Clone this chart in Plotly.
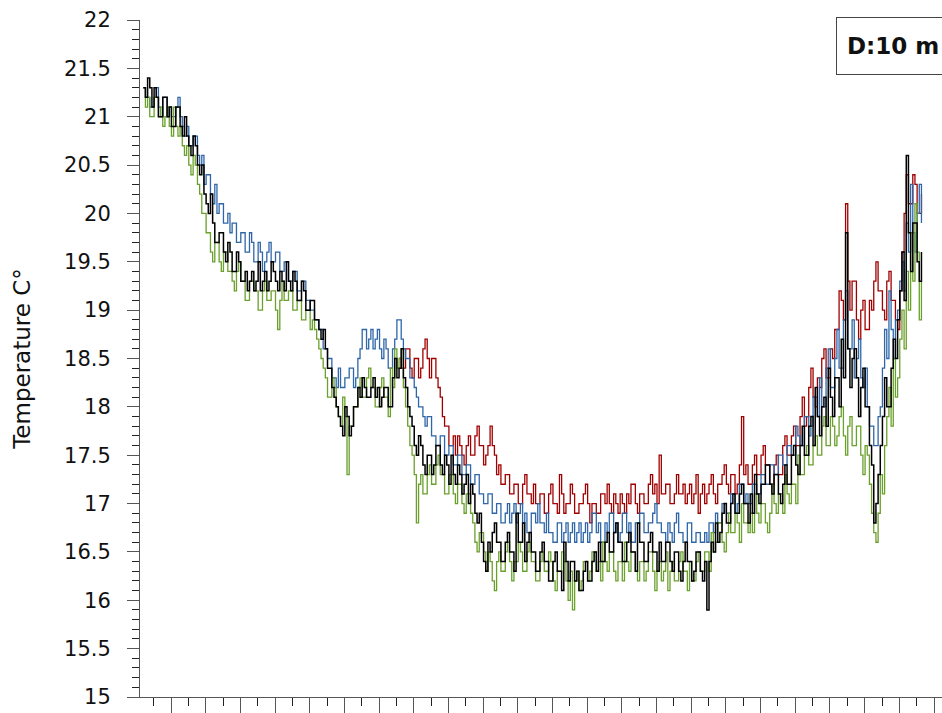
import numpy as np
import plotly.graph_objects as go

# Sampling: one reading every 3 hours (0.125 day), starting at day 0.4
T0 = 0.4
STEP = 0.125

black_vals = [
    21.3, 21.2, 21.4, 21.3, 21.1, 21.3, 21.2, 21.0, 21.0, 21.2, 21.2, 21.0, 21.1, 20.9, 20.9, 21.1, 21.1, 20.9, 20.8, 21.0,
    20.8, 20.7, 20.6, 20.8, 20.7, 20.5, 20.4, 20.5, 20.2, 20.1, 20.0, 20.2, 19.9, 19.7, 19.7, 19.8, 19.8, 19.6, 19.5, 19.7,
    19.6, 19.4, 19.4, 19.6, 19.5, 19.3, 19.3, 19.4, 19.2, 19.3, 19.4, 19.2, 19.3, 19.5, 19.2, 19.3, 19.4, 19.2, 19.3, 19.5,
    19.4, 19.3, 19.2, 19.4, 19.3, 19.2, 19.5, 19.3, 19.2, 19.4, 19.3, 19.1, 19.1, 19.3, 19.2, 19.0, 19.0, 19.1, 19.1, 18.9,
    18.9, 18.8, 18.7, 18.8, 18.6, 18.4, 18.4, 18.2, 18.1, 18.0, 17.9, 17.8, 17.7, 18.0, 17.9, 17.7, 17.8, 18.0, 18.0, 18.2,
    18.1, 18.3, 18.2, 18.1, 18.1, 18.2, 18.3, 18.1, 18.2, 18.0, 18.1, 18.2, 18.2, 18.0, 18.0, 18.3, 18.5, 18.3, 18.4, 18.6,
    18.3, 18.2, 18.0, 17.9, 17.8, 17.6, 17.5, 17.7, 17.6, 17.4, 17.3, 17.5, 17.5, 17.3, 17.4, 17.6, 17.6, 17.4, 17.3, 17.5,
    17.4, 17.2, 17.5, 17.3, 17.2, 17.4, 17.3, 17.1, 17.2, 17.3, 17.0, 17.2, 17.1, 16.9, 16.8, 16.9, 16.6, 16.4, 16.3, 16.6,
    16.5, 16.7, 16.8, 16.6, 16.6, 16.4, 16.4, 16.6, 16.7, 16.5, 16.5, 16.3, 16.9, 16.6, 16.6, 16.8, 16.4, 16.6, 16.7, 16.5,
    16.5, 16.3, 16.3, 16.5, 16.6, 16.4, 16.4, 16.2, 16.2, 16.4, 16.5, 16.3, 16.3, 16.1, 16.6, 16.4, 16.2, 16.4, 16.4, 16.2,
    16.3, 16.1, 16.1, 16.3, 16.4, 16.2, 16.2, 16.4, 16.5, 16.3, 16.6, 16.4, 16.4, 16.6, 16.7, 16.5, 16.5, 16.7, 16.8, 16.6,
    16.6, 16.4, 16.4, 16.6, 16.7, 16.5, 16.5, 16.3, 16.8, 16.6, 16.6, 16.4, 16.4, 16.6, 16.7, 16.5, 16.5, 16.3, 16.6, 16.4,
    16.4, 16.6, 16.6, 16.4, 16.3, 16.5, 16.5, 16.3, 16.2, 16.4, 16.6, 16.4, 16.4, 16.2, 16.3, 16.5, 16.5, 16.3, 16.2, 16.4,
    15.9, 16.4, 16.6, 16.5, 16.8, 16.6, 16.7, 16.9, 17.0, 16.8, 16.8, 17.0, 17.1, 16.9, 16.9, 17.1, 17.2, 17.0, 17.0, 16.8,
    17.1, 16.9, 17.3, 17.1, 17.0, 17.2, 17.2, 17.4, 17.4, 17.2, 17.1, 17.3, 17.3, 17.1, 17.0, 17.2, 17.4, 17.2, 17.2, 17.5,
    17.6, 17.4, 17.3, 17.6, 17.8, 17.5, 17.5, 17.8, 17.9, 17.6, 18.2, 17.9, 17.7, 18.0, 18.1, 17.8, 18.4, 18.1, 17.9, 18.3,
    18.3, 18.0, 18.7, 18.3, 19.8, 18.6, 18.2, 18.5, 18.6, 18.3, 17.9, 18.2, 18.4, 18.0, 18.0, 17.6, 17.4, 16.8, 17.0, 17.3,
    17.6, 17.9, 18.3, 18.0, 18.0, 18.4, 18.7, 18.5, 18.9, 19.2, 19.6, 19.1, 20.6, 19.8, 19.4, 19.9, 19.9, 19.5, 19.3, 19.6,
]

blue_vals = [
    21.3, 21.2, 21.2, 21.1, 21.1, 21.2, 21.3, 21.1, 21.0, 21.2, 21.2, 21.0, 21.1, 21.0, 21.0, 21.1, 21.2, 21.0, 20.9, 20.8,
    20.9, 20.7, 20.7, 20.8, 20.8, 20.6, 20.5, 20.6, 20.3, 20.4, 20.4, 20.2, 20.1, 20.3, 20.0, 20.1, 20.1, 19.9, 19.9, 20.0,
    19.8, 19.9, 19.9, 19.7, 19.7, 19.8, 19.8, 19.6, 19.6, 19.8, 19.7, 19.5, 19.5, 19.7, 19.6, 19.4, 19.5, 19.6, 19.7, 19.5,
    19.5, 19.6, 19.6, 19.4, 19.4, 19.5, 19.5, 19.3, 19.3, 19.4, 19.4, 19.2, 19.2, 19.3, 19.3, 19.1, 19.1, 19.0, 19.0, 18.9,
    18.9, 18.8, 18.8, 18.6, 18.6, 18.5, 18.5, 18.3, 18.3, 18.2, 18.4, 18.2, 18.2, 18.3, 18.3, 18.4, 18.4, 18.2, 18.3, 18.5,
    18.6, 18.8, 18.8, 18.6, 18.7, 18.8, 18.6, 18.7, 18.8, 18.6, 18.5, 18.7, 18.6, 18.4, 18.4, 18.6, 18.7, 18.9, 18.9, 18.7,
    18.6, 18.5, 18.5, 18.3, 18.3, 18.2, 18.1, 18.0, 18.0, 17.9, 17.8, 17.9, 17.9, 17.7, 17.7, 17.6, 17.6, 17.7, 17.7, 17.5,
    17.5, 17.6, 17.6, 17.4, 17.4, 17.5, 17.5, 17.3, 17.3, 17.4, 17.4, 17.2, 17.2, 17.3, 17.3, 17.1, 17.1, 17.0, 17.0, 17.1,
    17.1, 16.9, 16.9, 17.0, 17.0, 16.8, 16.8, 16.9, 17.0, 16.8, 16.9, 17.0, 16.8, 16.9, 17.0, 16.8, 16.9, 16.7, 16.7, 16.9,
    16.9, 16.8, 17.0, 16.8, 16.8, 16.7, 16.9, 16.7, 16.7, 16.6, 16.6, 16.8, 16.8, 16.6, 16.7, 16.8, 16.6, 16.7, 16.8, 16.6,
    16.7, 16.8, 16.6, 16.7, 16.8, 16.6, 16.7, 16.9, 16.9, 16.7, 16.8, 16.6, 16.6, 16.8, 16.7, 16.9, 16.9, 16.7, 16.8, 16.6,
    16.7, 16.9, 16.9, 16.7, 16.8, 16.6, 16.6, 16.8, 16.8, 16.9, 16.9, 16.7, 16.7, 16.8, 16.8, 16.9, 17.0, 16.8, 16.8, 16.7,
    16.7, 16.6, 16.8, 16.7, 16.6, 16.8, 16.9, 16.7, 16.7, 16.6, 16.6, 16.8, 16.8, 16.6, 16.6, 16.7, 16.7, 16.6, 16.6, 16.7,
    16.6, 16.8, 16.8, 16.7, 16.9, 16.8, 16.8, 17.0, 17.0, 16.9, 16.9, 17.1, 17.1, 16.9, 17.0, 17.2, 17.2, 17.0, 17.1, 17.0,
    17.0, 17.2, 17.2, 17.1, 17.1, 17.3, 17.3, 17.2, 17.2, 17.4, 17.4, 17.3, 17.3, 17.5, 17.5, 17.4, 17.4, 17.6, 17.6, 17.5,
    17.5, 17.8, 17.7, 17.6, 17.6, 17.9, 17.9, 17.7, 17.8, 18.1, 18.1, 17.9, 18.3, 18.0, 18.0, 18.4, 18.6, 18.2, 18.2, 18.5,
    18.8, 18.4, 18.4, 18.9, 19.2, 18.6, 18.6, 18.9, 18.3, 18.5, 18.7, 18.3, 18.2, 18.4, 18.0, 17.8, 17.8, 17.6, 17.6, 17.9,
    18.0, 18.4, 18.8, 18.5, 19.2, 18.8, 18.5, 18.9, 19.0, 19.3, 19.5, 19.2, 19.9, 19.6, 20.3, 19.8, 19.6, 20.0, 20.3, 19.9,
]

green_vals = [
    21.3, 21.1, 21.2, 21.0, 21.0, 21.2, 21.2, 21.0, 21.1, 20.9, 21.0, 21.1, 20.9, 20.8, 21.1, 20.9, 20.8, 20.9, 20.7, 20.6,
    20.7, 20.5, 20.4, 20.6, 20.5, 20.3, 20.2, 20.0, 20.0, 19.8, 19.8, 19.6, 19.5, 19.7, 19.7, 19.5, 19.4, 19.6, 19.6, 19.4,
    19.4, 19.3, 19.2, 19.4, 19.5, 19.3, 19.3, 19.1, 19.1, 19.3, 19.3, 19.2, 19.2, 19.0, 19.0, 19.2, 19.3, 19.1, 19.1, 19.2,
    19.2, 19.0, 18.8, 19.1, 19.3, 19.1, 19.1, 19.2, 19.2, 19.0, 19.0, 19.1, 19.1, 18.9, 18.9, 19.0, 19.0, 18.8, 18.9, 18.8,
    18.7, 18.6, 18.5, 18.4, 18.3, 18.1, 18.1, 18.3, 18.2, 18.0, 17.9, 17.8, 18.1, 17.9, 17.3, 17.8, 17.8, 18.0, 18.0, 18.2,
    18.3, 18.1, 18.1, 18.3, 18.4, 18.2, 18.2, 18.0, 18.0, 18.2, 18.3, 18.1, 18.1, 17.9, 18.4, 18.2, 18.6, 18.4, 18.5, 18.6,
    18.2, 18.0, 17.8, 17.6, 17.5, 17.3, 16.8, 17.2, 17.3, 17.1, 17.1, 17.3, 17.4, 17.2, 17.2, 17.4, 17.5, 17.3, 17.3, 17.1,
    17.1, 17.3, 17.3, 17.1, 17.0, 17.2, 17.2, 17.0, 16.9, 17.1, 17.1, 16.9, 16.8, 16.6, 16.5, 16.7, 16.7, 16.5, 16.3, 16.5,
    16.4, 16.2, 16.1, 16.4, 16.5, 16.3, 16.3, 16.5, 16.6, 16.4, 16.2, 16.4, 16.4, 16.6, 16.5, 16.3, 16.3, 16.5, 16.6, 16.4,
    16.4, 16.2, 16.2, 16.4, 16.5, 16.3, 16.3, 16.5, 16.4, 16.2, 16.1, 16.3, 16.3, 16.5, 16.4, 16.2, 16.0, 16.3, 15.9, 16.2,
    16.3, 16.1, 16.2, 16.4, 16.4, 16.2, 16.3, 16.5, 16.5, 16.3, 16.4, 16.2, 16.6, 16.4, 16.3, 16.5, 16.5, 16.3, 16.2, 16.4,
    16.4, 16.2, 16.6, 16.4, 16.3, 16.5, 16.5, 16.3, 16.2, 16.4, 16.4, 16.2, 16.3, 16.5, 16.5, 16.3, 16.1, 16.3, 16.4, 16.2,
    16.3, 16.5, 16.1, 16.3, 16.4, 16.2, 16.2, 16.4, 16.5, 16.3, 16.3, 16.1, 16.4, 16.2, 16.2, 16.4, 16.5, 16.3, 16.3, 16.5,
    16.5, 16.3, 16.7, 16.5, 16.6, 16.8, 16.8, 16.6, 16.5, 16.7, 16.9, 16.7, 16.7, 16.9, 16.8, 16.6, 17.0, 16.8, 16.8, 16.7,
    16.9, 16.7, 17.1, 16.9, 16.8, 17.0, 17.0, 16.8, 16.7, 16.9, 17.2, 17.0, 16.9, 17.1, 17.1, 16.9, 17.3, 17.1, 17.0, 17.2,
    17.2, 17.0, 17.5, 17.3, 17.3, 17.5, 17.6, 17.4, 17.4, 17.6, 17.7, 17.5, 17.5, 17.8, 17.9, 17.6, 17.6, 17.9, 17.8, 17.6,
    17.7, 17.9, 18.0, 17.7, 17.5, 17.8, 17.9, 17.6, 17.6, 17.8, 17.8, 17.5, 17.3, 17.6, 17.5, 17.2, 16.9, 16.7, 16.6, 16.9,
    17.3, 17.1, 17.6, 17.9, 18.2, 17.8, 18.5, 18.1, 18.3, 18.7, 19.0, 18.6, 19.4, 19.0, 19.8, 19.3, 20.1, 19.6, 18.9, 19.3,
]

# The red logger starts recording later (sample index 118)
RED_START = 118
red_vals = [
    18.5, 18.4,
    18.4, 18.6, 18.6, 18.4, 18.3, 18.5, 18.5, 18.3, 18.4, 18.6, 18.7, 18.5, 18.3, 18.5, 18.5, 18.3, 18.2, 18.1, 17.9, 17.8,
    17.8, 17.6, 17.6, 17.7, 17.5, 17.7, 17.6, 17.5, 17.4, 17.6, 17.7, 17.5, 17.5, 17.7, 17.8, 17.6, 17.6, 17.4, 17.5, 17.6,
    17.8, 17.6, 17.5, 17.3, 17.4, 17.2, 17.2, 17.3, 17.3, 17.1, 17.1, 17.2, 17.2, 17.0, 17.0, 17.2, 17.3, 17.1, 17.1, 17.0,
    17.2, 17.0, 17.0, 17.1, 17.1, 16.9, 16.9, 17.1, 17.2, 17.0, 17.0, 16.9, 17.3, 17.1, 16.9, 17.0, 17.0, 17.2, 17.1, 16.9,
    16.9, 17.0, 17.0, 17.1, 17.2, 17.0, 16.8, 17.0, 17.0, 16.9, 16.9, 17.1, 17.1, 17.0, 17.2, 17.0, 16.9, 17.1, 17.0, 16.9,
    17.1, 17.0, 16.9, 17.1, 17.0, 17.2, 17.2, 17.0, 16.9, 17.1, 17.1, 17.0, 17.0, 17.2, 17.3, 17.1, 17.2, 17.0, 17.5, 17.1,
    17.1, 17.2, 17.2, 17.0, 17.0, 17.1, 17.3, 17.1, 17.1, 17.2, 17.0, 17.1, 17.2, 17.0, 17.1, 17.3, 16.9, 17.1, 17.2, 17.0,
    17.1, 17.2, 17.3, 17.1, 17.0, 17.2, 17.2, 17.3, 17.4, 17.2, 17.1, 17.3, 17.3, 17.1, 17.2, 17.4, 17.9, 17.3, 17.4, 17.2,
    17.2, 17.4, 17.5, 17.3, 17.3, 17.5, 17.6, 17.4, 17.4, 17.2, 17.2, 17.4, 17.5, 17.3, 17.3, 17.6, 17.7, 17.5, 17.5, 17.7,
    17.8, 17.6, 17.6, 17.9, 18.1, 17.8, 17.9, 18.2, 18.4, 18.1, 18.0, 18.3, 18.2, 18.5, 18.6, 18.3, 18.3, 18.6, 18.5, 18.8,
    18.8, 19.2, 19.1, 18.9, 20.1, 19.3, 19.0, 19.3, 19.3, 18.9, 18.7, 19.0, 19.1, 18.8, 18.8, 19.1, 19.0, 19.3, 19.5, 19.2,
    19.2, 19.0, 18.9, 19.3, 19.4, 19.1, 19.1, 18.9, 18.8, 19.2, 19.6, 20.0, 20.4, 20.1, 20.1, 20.4, 20.3, 20.0, 20.0, 20.2,
]

Y_TICKS = [15, 15.5, 16, 16.5, 17, 17.5, 18, 18.5, 19, 19.5, 20, 20.5, 21, 21.5, 22]


def day_index(start, n):
    return T0 + STEP * (start + np.arange(n))


series = [
    ("Red", red_vals, RED_START, "#a00000", 1.3),
    ("Blue", blue_vals, 0, "#2f66a8", 1.3),
    ("Green", green_vals, 0, "#6aa02c", 1.3),
    ("Black", black_vals, 0, "#000000", 1.5),
]

fig = go.Figure()
for name, vals, start, color, width in series:
    fig.add_trace(go.Scatter(
        x=day_index(start, len(vals)),
        y=vals,
        mode="lines",
        name=name,
        line=dict(color=color, width=width, shape="hv"),
        showlegend=False,
    ))

axis_color = "#555555"
font_family = "DejaVu Sans, Verdana, sans-serif"

fig.update_layout(
    width=942,
    height=713,
    margin=dict(l=140, r=0, t=20, b=16),
    paper_bgcolor="white",
    plot_bgcolor="white",
    font=dict(family=font_family, color="#222222"),
    xaxis=dict(
        range=[0.212, 46.46],
        tick0=0,
        dtick=2,
        ticks="outside",
        ticklen=16,
        tickcolor=axis_color,
        tickwidth=1,
        showticklabels=False,
        showline=True,
        linecolor=axis_color,
        linewidth=1,
        showgrid=False,
        zeroline=False,
        minor=dict(dtick=1, tick0=0, ticks="outside", ticklen=8,
                   tickcolor="#222222", showgrid=False),
    ),
    yaxis=dict(
        range=[15, 22],
        tickvals=Y_TICKS,
        ticks="outside",
        ticklen=12,
        tickcolor=axis_color,
        tickwidth=1,
        tickfont=dict(size=21, family=font_family, color="#111111"),
        ticklabelstandoff=12,
        showline=True,
        linecolor=axis_color,
        linewidth=1,
        showgrid=False,
        zeroline=False,
        minor=dict(dtick=0.1, tick0=15, ticks="outside", ticklen=7,
                   tickcolor="#222222", showgrid=False),
        title=dict(text="Temperature C°", font=dict(size=23, family=font_family, color="#111111"),
                   standoff=26),
    ),
    annotations=[
        dict(
            text="<b>D:10 m</b>",
            xref="paper", yref="paper",
            x=(836 - 140) / 802, y=1 + 3 / 677,
            xanchor="left", yanchor="top",
            showarrow=False,
            align="left",
            width=120,
            height=36,
            borderpad=10,
            bordercolor="#444444",
            borderwidth=1,
            bgcolor="white",
            font=dict(size=23, family=font_family, color="#111111"),
        )
    ],
)

fig.write_html("out.html")
